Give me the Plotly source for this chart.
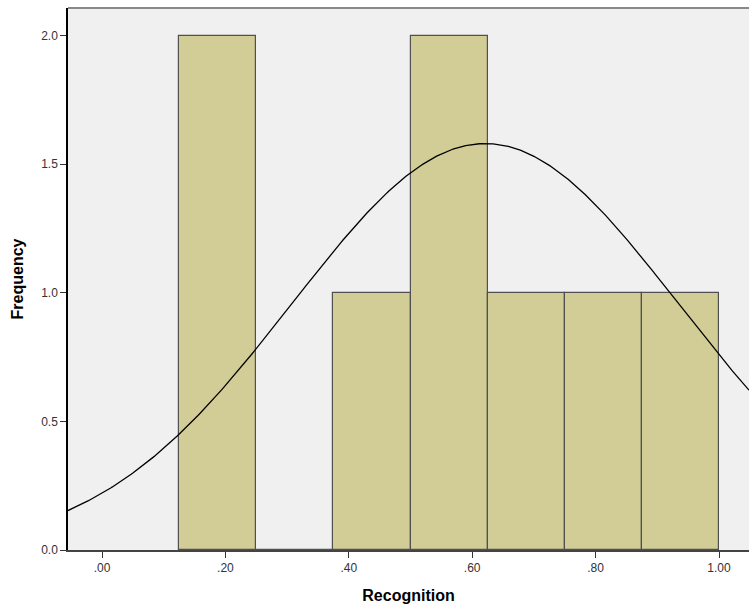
import numpy as np
import plotly.graph_objects as go

# Histogram bins (Recognition) and frequencies
bin_left = [0.125, 0.25, 0.375, 0.5, 0.625, 0.75, 0.875]
bin_width = 0.125
freq = [2, 0, 1, 2, 1, 1, 1]

# Fitted normal curve parameters
curve_mean = 0.621
curve_sd = 0.313
curve_peak = 1.58

x_tickvals = [0.0, 0.2, 0.4, 0.6, 0.8, 1.0]
x_ticktext = [".00", ".20", ".40", ".60", ".80", "1.00"]
y_tickvals = [0.0, 0.5, 1.0, 1.5, 2.0]
y_ticktext = ["0.0", "0.5", "1.0", "1.5", "2.0"]

x_range = [-0.0551, 1.0486]
y_range = [0, 2.107]

centers = [b + bin_width / 2 for b in bin_left]

fig = go.Figure()
fig.add_trace(go.Bar(
    x=centers, y=freq, width=[bin_width] * len(freq),
    marker=dict(color="#D2CD96", line=dict(color="#505050", width=1.2)),
    hoverinfo="skip",
))

xs = np.linspace(x_range[0], x_range[1], 400)
ys = curve_peak * np.exp(-0.5 * ((xs - curve_mean) / curve_sd) ** 2)
fig.add_trace(go.Scatter(x=xs, y=ys, mode="lines",
                         line=dict(color="black", width=1.3), hoverinfo="skip"))

fig.add_shape(type="line", xref="paper", yref="paper", x0=0, x1=1, y0=1, y1=1,
              line=dict(color="#888888", width=2))

fig.update_layout(
    width=749, height=613,
    margin=dict(l=68, r=0, t=8, b=63),
    paper_bgcolor="white", plot_bgcolor="#F0F0F0",
    showlegend=False, bargap=0,
    font=dict(family="Liberation Sans, Arial, sans-serif", size=12, color="#333333"),
    xaxis=dict(range=x_range, tickvals=x_tickvals, ticktext=x_ticktext,
               showgrid=False, zeroline=False, showline=True, linecolor="#444444",
               linewidth=1.5, ticks="outside", ticklen=6, tickcolor="#333333",
               title=dict(text="<b>Recognition</b>", font=dict(size=16, color="black"),
                          standoff=16)),
    yaxis=dict(range=y_range, tickvals=y_tickvals, ticktext=y_ticktext,
               showgrid=False, zeroline=False, showline=True, linecolor="black",
               linewidth=1.5, ticks="outside", ticklen=6, tickcolor="#333333",
               title=dict(text="<b>Frequency</b>", font=dict(size=16, color="black"),
                          standoff=14)),
)

fig.write_html("out.html")
